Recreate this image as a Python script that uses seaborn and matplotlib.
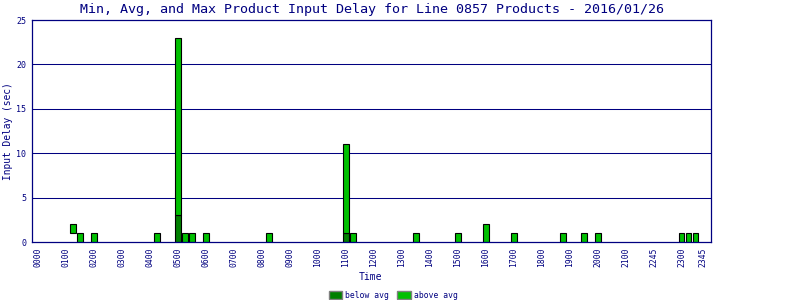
import matplotlib
matplotlib.use("Agg")
import matplotlib.pyplot as plt
from matplotlib.patches import Patch
import numpy as np
import pandas as pd
import seaborn as sns

# ---- data ----
slots = [f"{h:02d}{m:02d}" for h in range(24) for m in (0, 15, 30, 45)]
times = ["0115", "0130", "0200", "0415", "0500", "0515", "0530", "0600", "0815",
         "1100", "1115", "1330", "1500", "1600", "1700", "1845", "1930", "2000",
         "2300", "2315", "2330"]
min_delay = [1, 0, 0, 0, 0, 0, 0, 0, 0, 0, 0, 0, 0, 0, 0, 0, 0, 0, 0, 0, 0]
avg_delay = [1, 0, 0, 0, 3, 0, 0, 0, 0, 1, 0, 0, 0, 0, 0, 0, 0, 0, 0, 0, 0]
max_delay = [2, 1, 1, 1, 23, 1, 1, 1, 1, 11, 1, 1, 1, 2, 1, 1, 1, 1, 1, 1, 1]
tick_slots = ["0000", "0100", "0200", "0300", "0400", "0500", "0600", "0700",
              "0800", "0900", "1000", "1100", "1200", "1300", "1400", "1500",
              "1600", "1700", "1800", "1900", "2000", "2100", "2200", "2300", "2345"]
tick_texts = ["0000", "0100", "0200", "0300", "0400", "0500", "0600", "0700",
              "0800", "0900", "1000", "1100", "1200", "1300", "1400", "1500",
              "1600", "1700", "1800", "1900", "2000", "2100", "2245", "2300", "2345"]

NAVY = "#000080"
LIGHT = "#00c000"
DARK = "#008000"

sns.set_theme(style="white")
plt.rcParams['font.family'] = ['DejaVu Sans Mono', 'DejaVu Sans']

df = pd.DataFrame(dict(time=times, lo=min_delay, avg=avg_delay, hi=max_delay))
df["below_h"] = df["avg"] - df["lo"]
df["above_h"] = df["hi"] - df["avg"]
below = df[df["below_h"] > 0]

fig = plt.figure(figsize=(8, 3), dpi=100)
ax = fig.add_axes([32 / 800, 58 / 300, 679 / 800, 222 / 300])

sns.barplot(data=below, x="time", y="below_h", order=slots, bottom=below["lo"].to_numpy(),
            color=DARK, saturation=1, edgecolor="black", linewidth=0.8, width=0.8,
            errorbar=None, ax=ax)
sns.barplot(data=df, x="time", y="above_h", order=slots, bottom=df["avg"].to_numpy(),
            color=LIGHT, saturation=1, edgecolor="black", linewidth=0.8, width=0.8,
            errorbar=None, ax=ax)

ax.set_ylim(0, 25)
ax.set_xlim(-0.9, 96.2)
ax.set_yticks([0, 5, 10, 15, 20, 25])
for v in [5, 10, 15, 20]:
    ax.axhline(v, color=NAVY, lw=0.75, zorder=0.5)
ax.set_xticks([slots.index(t) for t in tick_slots])
ax.set_xticklabels(tick_texts, rotation=90)
ax.tick_params(axis="x", length=0, pad=4, labelsize=5.8, labelcolor=NAVY)
ax.tick_params(axis="y", length=0, pad=4, labelsize=6.0, labelcolor=NAVY)
for s in ax.spines.values():
    s.set_color(NAVY)
    s.set_linewidth(0.9)
    s.set_visible(True)
ax.set_xlabel("")
ax.set_ylabel("")

fig.text(371.5 / 800, 1 - 9 / 300, "Min, Avg, and Max Product Input Delay for Line 0857 Products - 2016/01/26",
         ha="center", va="center", color=NAVY, fontsize=9.6)
fig.text(8 / 800, 1 - 131 / 300, "Input Delay (sec)", rotation=90, ha="center", va="center",
         color=NAVY, fontsize=6.9)
fig.text(370 / 800, 1 - 277 / 300, "Time", ha="center", va="center", color=NAVY, fontsize=7.0)

handles = [Patch(facecolor=DARK, edgecolor="#808080", linewidth=1, label="below avg"),
           Patch(facecolor=LIGHT, edgecolor="#808080", linewidth=1, label="above avg")]
leg = fig.legend(handles=handles, ncol=2, loc="center", bbox_to_anchor=(393 / 800, 1 - 295 / 300),
                 frameon=False, fontsize=5.8, handlelength=1.7, handleheight=1.1,
                 handletextpad=0.3, columnspacing=1.1, borderpad=0)
for t in leg.get_texts():
    t.set_color(NAVY)

fig.savefig("out.png", dpi=100)
